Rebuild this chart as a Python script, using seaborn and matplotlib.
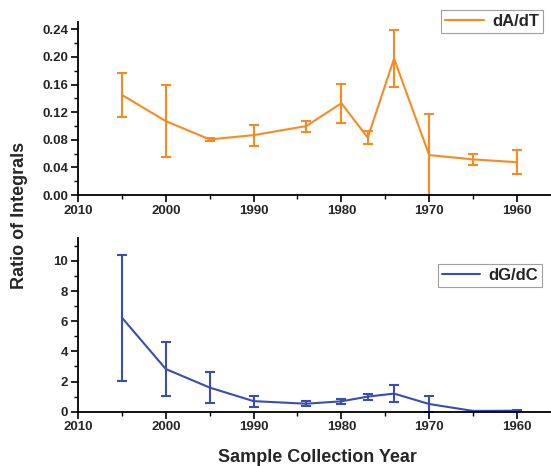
import matplotlib
matplotlib.use("Agg")
import matplotlib.pyplot as plt
import seaborn as sns
import pandas as pd
from matplotlib.ticker import MultipleLocator

years = [2005, 2000, 1995, 1990, 1984, 1980, 1977, 1974, 1970, 1965, 1960]
da_dt = [0.145, 0.107, 0.0805, 0.0867, 0.0998, 0.133, 0.083, 0.1976, 0.0578, 0.0516, 0.0475]
da_dt_err = [0.032, 0.052, 0.002, 0.015, 0.008, 0.028, 0.009, 0.041, 0.060, 0.0077, 0.017]
dg_dc = [6.24, 2.83, 1.60, 0.70, 0.53, 0.69, 1.00, 1.20, 0.51, 0.05, 0.07]
dg_dc_err = [4.18, 1.80, 1.02, 0.36, 0.18, 0.16, 0.20, 0.55, 0.50, 0.02, 0.04]

orange = "#F98A22"
blue = "#3A4DB0"

sns.set_style("ticks")
plt.rcParams['font.family'] = ['Liberation Sans', 'DejaVu Sans']
plt.rcParams['font.weight'] = 'bold'

fig = plt.figure(figsize=(5.51, 4.66), dpi=100)
W, H = 551, 466
left = 78 / W
width = 1.0 - left + 0.002
ax1 = fig.add_axes([left, 1 - 195 / H, width, (195 - 22) / H])
ax2 = fig.add_axes([left, 1 - 411.7 / H, width, (411.7 - 238.3) / H])

df1 = pd.DataFrame({"year": years, "val": da_dt, "err": da_dt_err})
df2 = pd.DataFrame({"year": years, "val": dg_dc, "err": dg_dc_err})

for ax, df, color, label, ylim, major, minor in [
    (ax1, df1, orange, "dA/dT", (0, 0.2506), 0.04, 0.02),
    (ax2, df2, blue, "dG/dC", (0, 11.5), 2, 1),
]:
    sns.lineplot(data=df, x="year", y="val", ax=ax, color=color, lw=1.5,
                 label=label, sort=False)
    ax.errorbar(df["year"], df["val"], yerr=df["err"], fmt="none",
                ecolor=color, elinewidth=1.5, capsize=3.5, capthick=1.5)
    ax.set_xlim(2010, 1956.0)
    ax.set_ylim(*ylim)
    ax.xaxis.set_major_locator(MultipleLocator(10))
    ax.xaxis.set_minor_locator(MultipleLocator(5))
    ax.yaxis.set_major_locator(MultipleLocator(major))
    ax.yaxis.set_minor_locator(MultipleLocator(minor))
    ax.set_xlabel("")
    ax.set_ylabel("")
    sns.despine(ax=ax)
    for s in ["left", "bottom"]:
        ax.spines[s].set_linewidth(1.3)
        ax.spines[s].set_color("black")
    ax.tick_params(which="major", length=5, width=1.2, color="black",
                   labelsize=9.5, direction="out", pad=2)
    ax.tick_params(which="minor", length=3, width=1.0, color="black",
                   direction="out")
    for lab in ax.get_xticklabels() + ax.get_yticklabels():
        lab.set_fontweight("bold")

ax1.yaxis.set_major_formatter(matplotlib.ticker.FormatStrFormatter("%.2f"))
ax2.yaxis.set_major_formatter(matplotlib.ticker.FormatStrFormatter("%d"))

leg_kw = dict(handlelength=2.3, frameon=True, fancybox=False,
              edgecolor="#888888", borderpad=0.25, handletextpad=0.5,
              borderaxespad=0, prop={"weight": "bold", "size": 12})
l1 = ax1.legend(loc="upper right", bbox_to_anchor=(543 / W, 1 - 10 / H),
                bbox_transform=fig.transFigure, **leg_kw)
l2 = ax2.legend(loc="upper left", bbox_to_anchor=(437.7 / W, 1 - 264 / H),
                bbox_transform=fig.transFigure, **leg_kw)
for l in (l1, l2):
    l.get_frame().set_linewidth(0.8)

fig.text(20 / W, 1 - 215 / H, "Ratio of Integrals", rotation=90, ha="center",
         va="center", fontsize=13, fontweight="bold")
fig.text(317 / W, 1 - 458 / H, "Sample Collection Year", ha="center",
         va="center", fontsize=13, fontweight="bold")

fig.savefig("out.png", dpi=100)
